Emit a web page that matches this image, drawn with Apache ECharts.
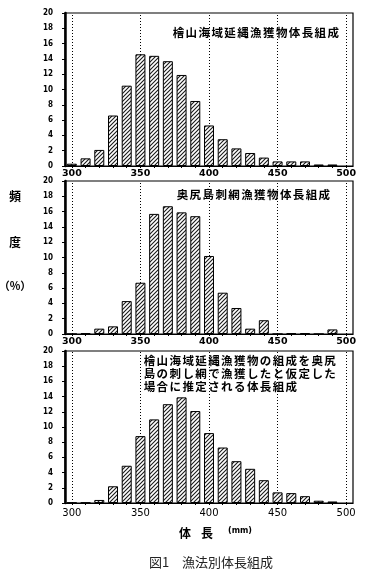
<!DOCTYPE html>
<html><head><meta charset="utf-8">
<script src="https://cdn.jsdelivr.net/npm/echarts@6/dist/echarts.min.js"></script>
<style>html,body{margin:0;padding:0;background:#fff}#c{width:365px;height:577px}</style>
</head><body><div id="c"></div>
<script>
// ---- data ----
const lengths = [300,310,320,330,340,350,360,370,380,390,400,410,420,430,440,450,460,470,480,490];
const longlineHiyama = [0.3,1.0,2.1,6.6,10.5,14.6,14.4,13.7,11.9,8.5,5.3,3.5,2.3,1.7,1.1,0.6,0.6,0.6,0.2,0.2];
const gillnetOkushiri = [0,0.1,0.7,1.0,4.3,6.7,15.7,16.7,15.9,15.4,10.2,5.4,3.4,0.7,1.8,0,0.1,0.1,0,0.6];
const estimatedComp = [0.05,0.05,0.4,2.2,4.9,8.8,11.0,13.0,13.9,12.1,9.2,7.3,5.5,4.5,3.0,1.4,1.3,0.9,0.3,0.2];
const xLabelValues = [300,350,400,450,500];
const xTickValues = [300,310,320,330,340,350,360,370,380,390,400,410,420,430,440,450,460,470,480,490,500];
const panelTitles = [
  ['檜山海域延縄漁獲物体長組成'],
  ['奥尻島刺網漁獲物体長組成'],
  ['檜山海域延縄漁獲物の組成を奥尻','島の刺し網で漁獲したと仮定した','場合に推定される体長組成']
];
const yLabelChars = ['頻','度','（%）'];
const xAxisName = ['体','長'];
const xAxisUnit = '(mm)';
const caption = '図1　漁法別体長組成';

// ---- drawing ----
function hatch(){
  const s=4, c=document.createElement('canvas'); c.width=s; c.height=s;
  const g=c.getContext('2d'); g.fillStyle='#fff'; g.fillRect(0,0,s,s);
  g.strokeStyle='#1a1a1a'; g.lineWidth=1.1;
  g.beginPath();
  g.moveTo(0,s); g.lineTo(s,0);
  g.moveTo(-1,1); g.lineTo(1,-1);
  g.moveTo(s-1,s+1); g.lineTo(s+1,s-1);
  g.stroke();
  return c;
}
const pattern = {image: hatch(), repeat: 'repeat'};
const panels = [longlineHiyama, gillnetOkushiri, estimatedComp];
const gridTops = [13, 181, 351];
const gridH = [153, 153, 152];

const grids = [], xAxes = [], yAxes = [], series = [];
panels.forEach((vals, i) => {
  grids.push({left: 65, width: 288, top: gridTops[i], height: gridH[i], show: true, borderColor: '#000', borderWidth: 1.2, backgroundColor: 'transparent'});
  xAxes.push({
    type: 'value', gridIndex: i, min: 295, max: 505,
    axisLine: {show: true, lineStyle: {color: '#000', width: 1}},
    axisTick: {show: true, customValues: xTickValues, length: 2, inside: false, lineStyle: {color: '#000', width: 1}},
    axisLabel: {customValues: xLabelValues, color: '#000', margin: i === 2 ? 5 : 3,
      fontSize: i === 2 ? 10 : 9.5, fontWeight: i === 2 ? 'normal' : 'bold', fontFamily: 'DejaVu Sans'},
    splitLine: {show: false}
  });
  yAxes.push({
    type: 'value', gridIndex: i, min: 0, max: 20, interval: 2,
    axisLine: {show: true, lineStyle: {color: '#000', width: 2.5}},
    axisTick: {show: true, length: 3, lineStyle: {color: '#000'}},
    axisLabel: {color: '#000', fontSize: 8, fontWeight: 'bold', fontFamily: 'DejaVu Sans Condensed', margin: 12},
    splitLine: {show: false}
  });
  series.push({
    type: 'bar', xAxisIndex: i, yAxisIndex: i, z: 3,
    barWidth: 10,
    data: lengths.map((x, k) => [x, vals[k]]),
    itemStyle: {color: pattern, borderColor: '#000', borderWidth: 1},
    silent: true,
    markLine: {
      silent: true, symbol: 'none', z: 1, label: {show: false},
      lineStyle: {color: '#000', type: [1, 2], width: 1},
      data: xLabelValues.map(v => ({xAxis: v}))
    }
  });
});

const graphic = [];
const titleFont = 'bold 11.5px "Noto Sans CJK JP"';
const pitch = 12.9;
function spacedText(str, x0, y){
  Array.from(str).forEach((ch, k) => {
    graphic.push({type: 'text', x: x0 + k * pitch + pitch / 2, y: y, z: 10,
      style: {text: ch, font: titleFont, fill: '#000', textAlign: 'center', textVerticalAlign: 'middle'}});
  });
}
spacedText(panelTitles[0][0], 172, 33);
spacedText(panelTitles[1][0], 176, 195);
panelTitles[2].forEach((t, k) => spacedText(t, 143, 361 + k * 12.8));

const sideY = [196, 242, 286];
yLabelChars.forEach((t, k) => {
  graphic.push({type: 'text', x: 15, y: sideY[k], style: {text: t, font: (k === 2 ? 'bold 11px' : 'bold 12px') + ' "Noto Sans CJK JP"', fill: '#000', textAlign: 'center', textVerticalAlign: 'middle'}});
});
graphic.push({type: 'text', x: 185, y: 533, style: {text: xAxisName[0], font: 'bold 12px "Noto Sans CJK JP"', fill: '#000', textAlign: 'center', textVerticalAlign: 'middle'}});
graphic.push({type: 'text', x: 207, y: 533, style: {text: xAxisName[1], font: 'bold 12px "Noto Sans CJK JP"', fill: '#000', textAlign: 'center', textVerticalAlign: 'middle'}});
graphic.push({type: 'text', x: 240, y: 531, style: {text: xAxisUnit, font: 'bold 8px "DejaVu Sans"', fill: '#000', textAlign: 'center', textVerticalAlign: 'middle'}});
graphic.push({type: 'text', x: 211, y: 562, style: {text: caption, font: '13px "Noto Sans CJK JP"', fill: '#222', textAlign: 'center', textVerticalAlign: 'middle'}});

const chart = echarts.init(document.getElementById('c'), null, {renderer: 'canvas'});
chart.setOption({
  animation: false,
  backgroundColor: '#fff',
  grid: grids, xAxis: xAxes, yAxis: yAxes, series: series, graphic: graphic
});
</script></body></html>
